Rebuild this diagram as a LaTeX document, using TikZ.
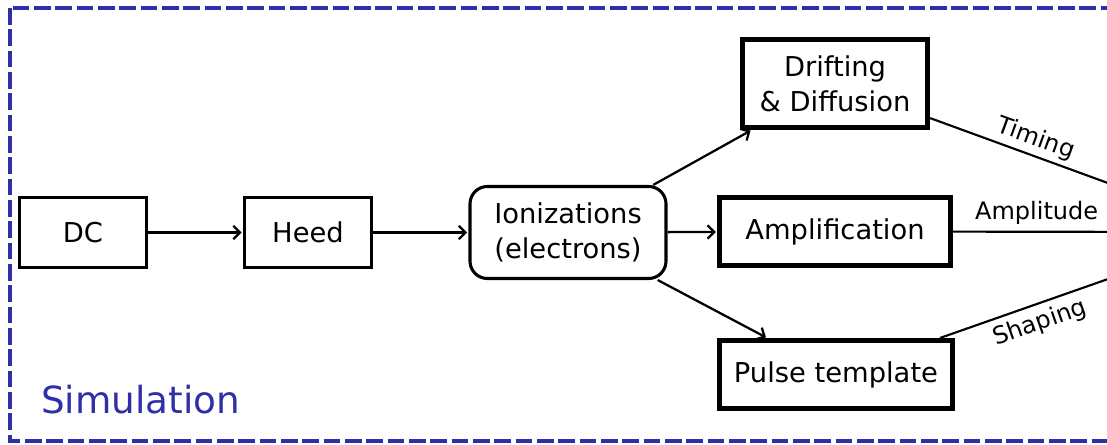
\documentclass[tikz,border=0pt]{standalone}
\usepackage{fontspec}
\setmainfont{DejaVu Sans}
\usetikzlibrary{arrows.meta}
\definecolor{sim}{HTML}{2F2FA8}
\definecolor{ink}{HTML}{000000}
\tikzset{
  >={Straight Barb[length=5pt, width=10pt]},
  every node/.style={text=ink},
  block/.style={draw=ink, fill=white, line width=#1, align=center, inner sep=0pt,
    font=\fontsize{20.5}{26}\selectfont},
  flow/.style={->, line width=1.7pt, draw=ink, shorten >=1pt},
  link/.style={line width=1.6pt, draw=ink},
  lbl/.style={font=\fontsize{18}{22}\selectfont, inner sep=3pt},
  simFrame/.style={draw=sim, line width=2.3pt, dash pattern=on 12.5pt off 3.5pt},
  simTitle/.style={anchor=base west, inner sep=0pt, text=sim, font=\fontsize{28}{34}\selectfont},
}

\begin{document}
\begin{tikzpicture}[x=0.75pt, y=-0.75pt]
  \useasboundingbox (0, 0) rectangle (1107, 445);
  \clip (0, 0) rectangle (1107, 445);

  % ---------------------------------------------------------------- frame
  \draw[simFrame] (10, 8) rectangle (1400, 441);
  \node[simTitle] (title) at (41, 413) {Simulation};

  % ---------------------------------------------------------------- chain
  \node[block=2.5pt, minimum width=95pt, minimum height=52.5pt] (dc) at (83, 232.5) {DC};
  \node[block=2.5pt, minimum width=95pt, minimum height=52.5pt] (heed) at (308, 232.5) {Heed};
  \node[block=2.3pt, rounded corners=13pt, minimum width=147pt, minimum height=69pt] (ion)
    at (568, 232.5) {Ionizations\\(electrons)};
  \draw[flow] (dc) -- (heed);
  \draw[flow] (heed) -- (ion);

  % ---------------------------------------------------------------- electron processes
  \node[block=3.75pt, minimum width=139pt, minimum height=66pt] (drift) at (835, 83.5)
    {Drifting\\\& Diffusion};
  \node[block=3.75pt, minimum width=173pt, minimum height=51pt] (ampl) at (835, 231.5)
    {Amplification};
  \node[block=3.75pt, minimum width=175pt, minimum height=51pt] (pulse) at (836, 374.5)
    {Pulse template};
  \draw[flow] (ion) -- (drift);
  \draw[flow] (ion) -- (ampl);
  \draw[flow] (ion) -- (pulse);

  % ---------------------------------------------------------------- towards the signal
  \coordinate (signal) at (1242, 232);
  \draw[link] (drift) -- (signal) node[lbl, pos=0.32, sloped, above] {Timing};
  \draw[link] (ampl) -- (signal) node[lbl, pos=0.29, above, inner sep=5pt] {Amplitude};
  \draw[link] (pulse) -- (signal) node[lbl, pos=0.31, sloped, below, inner sep=5pt] {Shaping};

\end{tikzpicture}
\end{document}
